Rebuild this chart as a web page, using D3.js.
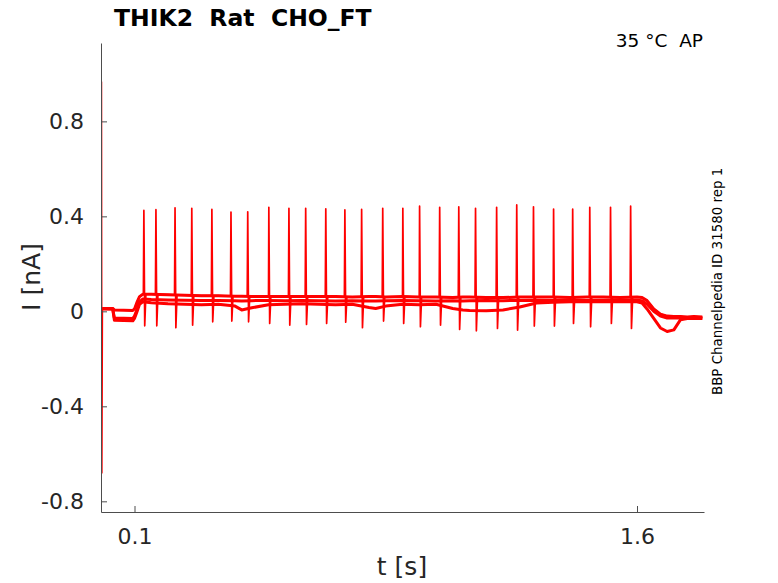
<!DOCTYPE html>
<html>
<head>
<meta charset="utf-8">
<script src="https://cdn.jsdelivr.net/npm/d3@7"></script>
<style>
  body { margin: 0; background: #fff; }
  text { font-family: "DejaVu Sans", sans-serif; }
</style>
</head>
<body>
<div id="chart"></div>
<script>
// Knot times (s) for the three overlaid sweeps
const knotT = [0.004, 0.035, 0.040, 0.095, 0.100, 0.108, 0.115, 0.125, 0.15, 0.20,
  0.25, 0.30, 0.35, 0.40, 0.42, 0.45, 0.50, 0.55, 0.60, 0.65,
  0.70, 0.75, 0.80, 0.82, 0.85, 0.90, 0.95, 1.00, 1.05, 1.08,
  1.10, 1.15, 1.20, 1.25, 1.30, 1.35, 1.40, 1.45, 1.50, 1.55,
  1.60, 1.615, 1.63, 1.65, 1.67, 1.69, 1.71, 1.73, 1.75, 1.77, 1.795];

// Current (nA) of each sweep at the knot times
const sweepA = [0.012, 0.012, 0.006, 0.004, 0.010, 0.040, 0.062, 0.072, 0.072, 0.070,
  0.068, 0.066, 0.066, 0.064, 0.064, 0.063, 0.062, 0.062, 0.063, 0.062,
  0.062, 0.060, 0.062, 0.062, 0.060, 0.062, 0.060, 0.060, 0.058, 0.060,
  0.060, 0.058, 0.058, 0.060, 0.060, 0.060, 0.058, 0.060, 0.060, 0.058,
  0.060, 0.058, 0.045, 0.010, -0.012, -0.020, -0.022, -0.022, -0.024, -0.022, -0.024];
const sweepB = [0.012, 0.010, -0.028, -0.030, -0.020, 0.010, 0.040, 0.052, 0.050, 0.048,
  0.047, 0.046, 0.046, 0.045, 0.044, 0.045, 0.046, 0.045, 0.046, 0.045,
  0.044, 0.045, 0.044, 0.044, 0.045, 0.046, 0.045, 0.044, 0.045, 0.044,
  0.045, 0.046, 0.045, 0.046, 0.047, 0.046, 0.047, 0.046, 0.047, 0.046,
  0.047, 0.045, 0.030, 0.000, -0.020, -0.028, -0.028, -0.028, -0.029, -0.028, -0.028];
const sweepC = [0.010, 0.010, -0.038, -0.040, -0.030, 0.000, 0.030, 0.040, 0.036, 0.032,
  0.030, 0.028, 0.030, 0.022, 0.006, 0.015, 0.028, 0.030, 0.032, 0.030,
  0.028, 0.030, 0.016, 0.012, 0.022, 0.030, 0.028, 0.030, 0.012, 0.006,
  0.004, 0.002, 0.006, 0.018, 0.035, 0.038, 0.040, 0.040, 0.040, 0.040,
  0.040, 0.035, 0.010, -0.030, -0.070, -0.085, -0.078, -0.035, -0.030, -0.030, -0.030];

// Action-potential-clamp spikes: time (s), peak and trough (nA)
const spikeT = [0.128, 0.164, 0.221, 0.271, 0.331, 0.388, 0.438, 0.501, 0.561, 0.611,
  0.671, 0.728, 0.778, 0.841, 0.901, 0.951, 1.011, 1.068, 1.118, 1.181,
  1.241, 1.291, 1.351, 1.408, 1.459, 1.521, 1.581];
const spikePeak = [0.425, 0.428, 0.436, 0.434, 0.429, 0.418, 0.419, 0.438, 0.434, 0.434,
  0.432, 0.427, 0.429, 0.434, 0.434, 0.443, 0.438, 0.440, 0.434, 0.438,
  0.448, 0.440, 0.431, 0.431, 0.438, 0.438, 0.443];
const spikeTrough = [-0.061, -0.061, -0.069, -0.058, -0.044, -0.041, -0.044, -0.051, -0.058, -0.055,
  -0.051, -0.046, -0.069, -0.041, -0.051, -0.065, -0.058, -0.076, -0.082, -0.072,
  -0.079, -0.062, -0.062, -0.051, -0.065, -0.051, -0.072];

// Capacitive transient at the start of the sweep
const transientT = [0.0, 0.0012, 0.0024, 0.004];
const transientI = [0.010, 0.966, -0.680, 0.012];

const yTicks = [0.8, 0.4, 0, -0.4, -0.8];
const yTickLabels = ["0.8", "0.4", "0", "-0.4", "-0.8"];
const xTicks = [0.1, 1.6];
const xTickLabels = ["0.1", "1.6"];

const W = 778, H = 583;
const margin = { top: 43, right: 74, bottom: 71, left: 101 },
    width = W - margin.left - margin.right,
    height = H - margin.top - margin.bottom;

const svg = d3.select("#chart").append("svg")
    .attr("width", W)
    .attr("height", H);

const x = d3.scaleLinear().domain([0, 1.8]).range([margin.left, margin.left + width]);
const y = d3.scaleLinear().domain([-0.845, 1.13]).range([margin.top + height, margin.top]);

svg.append("defs").append("clipPath").attr("id", "plotclip")
  .append("rect")
    .attr("x", margin.left).attr("y", margin.top - 2)
    .attr("width", width).attr("height", height + 2);

const line = d3.line().x(d => x(d[0])).y(d => y(d[1]));

// Build each sweep as [t, I] points
function sweepPoints(vals, withSpikes) {
  const base = d3.scaleLinear().domain(knotT).range(vals);
  let pts = knotT.map((t, i) => [t, vals[i]]);
  if (withSpikes) {
    spikeT.forEach((t, i) => {
      pts.push([t - 0.0015, base(t - 0.0015)]);
      pts.push([t, spikePeak[i]]);
      pts.push([t + 0.0025, spikeTrough[i]]);
      pts.push([t + 0.006, base(t + 0.006)]);
    });
    transientT.forEach((t, i) => pts.push([t, transientI[i]]));
  }
  return pts.sort((a, b) => a[0] - b[0]);
}

const traces = svg.append("g").attr("clip-path", "url(#plotclip)");
// thick baselines stand in for the recording noise band
[sweepC, sweepB, sweepA].forEach(vals => {
  traces.append("path")
    .datum(sweepPoints(vals, false))
    .attr("fill", "none")
    .attr("stroke", "#ff0000")
    .attr("stroke-width", 3)
    .attr("stroke-linejoin", "round")
    .attr("d", line);
});
// sweep with spikes drawn thinner on top
traces.append("path")
    .datum(sweepPoints(sweepA, true))
    .attr("fill", "none")
    .attr("stroke", "#ff0000")
    .attr("stroke-width", 1.7)
    .attr("stroke-linejoin", "round")
    .attr("d", line);

// Axes (MATLAB style, ticks pointing inward)
const yAxis = svg.append("g")
    .attr("transform", `translate(${margin.left},0)`)
    .call(d3.axisLeft(y).tickValues(yTicks)
      .tickFormat((d, i) => yTickLabels[i])
      .tickSizeInner(-6).tickSizeOuter(0).tickPadding(17));
const xAxis = svg.append("g")
    .attr("transform", `translate(0,${margin.top + height})`)
    .call(d3.axisBottom(x).tickValues(xTicks)
      .tickFormat((d, i) => xTickLabels[i])
      .tickSizeInner(-6).tickSizeOuter(0).tickPadding(16));

[yAxis, xAxis].forEach(a => {
  a.select(".domain").attr("stroke", "#4d4d4d");
  a.selectAll(".tick line").attr("stroke", "#4d4d4d");
  a.selectAll(".tick text")
    .attr("fill", "#262626")
    .style("font-family", "DejaVu Sans")
    .style("font-size", "22px");
});

// Axis labels
svg.append("text")
    .attr("x", 402).attr("y", 575)
    .attr("text-anchor", "middle")
    .attr("fill", "#262626")
    .style("font-size", "25px")
    .text("t [s]");

svg.append("text")
    .attr("transform", "translate(40,277) rotate(-90)")
    .attr("text-anchor", "middle")
    .attr("fill", "#262626")
    .style("font-size", "25px")
    .text("I [nA]");

// Title and annotations
svg.append("text")
    .attr("x", 114).attr("y", 26)
    .attr("fill", "#000")
    .style("font-size", "23.5px")
    .style("font-weight", "bold")
    .attr("xml:space", "preserve")
    .text("THIK2  Rat  CHO_FT");

svg.append("text")
    .attr("x", 703).attr("y", 47)
    .attr("text-anchor", "end")
    .attr("fill", "#000")
    .style("font-size", "18.5px")
    .attr("xml:space", "preserve")
    .text("35 °C  AP");

svg.append("text")
    .attr("transform", "translate(722,395) rotate(-90)")
    .attr("fill", "#000")
    .style("font-size", "13.4px")
    .text("BBP Channelpedia ID 31580 rep 1");
</script>
</body>
</html>
